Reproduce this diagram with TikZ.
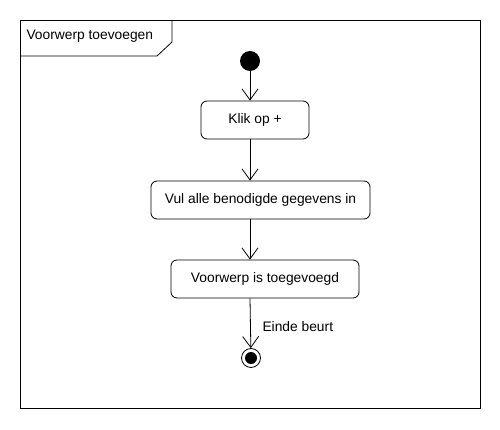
\documentclass[tikz,border=0pt]{standalone}
\usepackage{fontspec}
\setmainfont{Liberation Sans}
\usetikzlibrary{arrows.meta}

\tikzset{
  action/.style={draw, rounded corners=6pt, minimum height=38pt, line width=0.8pt,
    font=\fontsize{13.8}{16}\selectfont},
  flow/.style={line width=0.8pt, -{Straight Barb[length=11pt,width=16pt,line width=0.8pt]}},
  lbl/.style={font=\fontsize{13.8}{16}\selectfont},
}

\begin{document}
\begin{tikzpicture}[x=1pt,y=-1pt]

\useasboundingbox (0,0) rectangle (500,430);

% frame with name tab
\draw[line width=0.8pt] (20,20) rectangle (480,408);
\draw[line width=0.8pt] (20,56) -- (157,56) -- (172,42) -- (172,20);
\node[lbl, anchor=west] (title) at (23,36) {Voorwerp toevoegen};

% start and end
\node[circle, fill=black, minimum size=20pt, inner sep=0pt] (start) at (250,61) {};
\node[circle, draw, line width=0.8pt, minimum size=19pt, inner sep=0pt] (stop) at (251,358) {};
\node[circle, fill=black, minimum size=12pt, inner sep=0pt] (stopdot) at (stop) {};

% actions
\node[action, minimum width=108pt] (klik) at (255,120) {Klik op +};
\node[action, minimum width=219pt] (vul) at (260.5,200) {Vul alle benodigde gegevens in};
\node[action, minimum width=188pt] (klaar) at (265,279) {Voorwerp is toegevoegd};

% flows
\draw[flow] (start) -- (start |- klik.north);
\draw[flow] (start |- klik.south) -- (start |- vul.north);
\draw[flow] (start |- vul.south) -- (start |- klaar.north);
\draw[flow] (start |- klaar.south) -- (stop);
\node[lbl, anchor=west] (einde) at (259,327) {Einde beurt};

\end{tikzpicture}
\end{document}
